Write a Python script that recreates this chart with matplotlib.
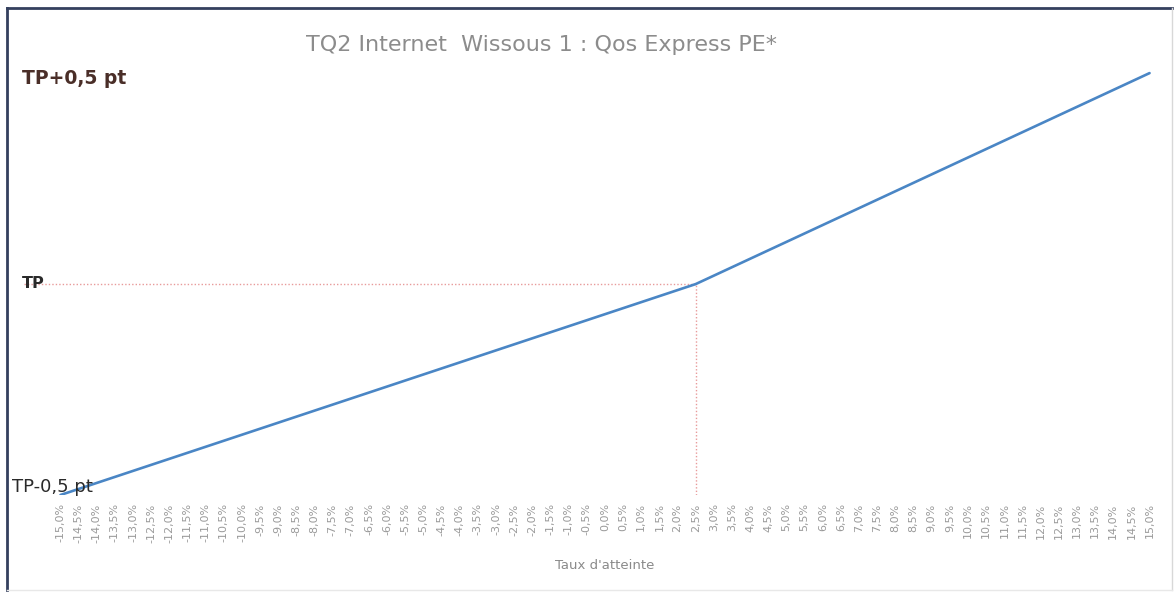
import numpy as np
import matplotlib
matplotlib.use("Agg")
import matplotlib.pyplot as plt
from matplotlib.lines import Line2D

# taux d'atteinte (%) and points relative to target (TP)
taux = [-15.0, 2.5, 15.0]
points = [-0.5, 0.0, 0.5]
seuil_x = 2.5
seuil_y = 0.0

ticks = np.arange(-15.0, 15.5, 0.5)
tick_labels = [("%.1f%%" % t).replace(".", ",") for t in ticks]
y_labels = ["TP-0,5 pt", "TP", "TP+0,5 pt"]

title = "TQ2 Internet  Wissous 1 : Qos Express PE*"

fig = plt.figure(figsize=(11.75, 5.93), dpi=100)
W, H = 1175, 593
ax = fig.add_axes([55 / W, 1 - 495 / H, (1155 - 55) / W, (495 - 52) / H])

ax.plot(taux, points, color="#4a86c5", lw=1.9, zorder=3, solid_capstyle="round")

# red dotted guide lines at the target
ax.plot([-16.0, seuil_x], [seuil_y, seuil_y], color="#e89a9a", lw=1, ls=(0, (1, 1.5)), zorder=2, clip_on=False)
ax.plot([seuil_x, seuil_x], [-0.5, seuil_y], color="#e89a9a", lw=1, ls=(0, (1, 1.5)), zorder=2)

ax.set_xlim(-15.15, 15.15)
ax.set_ylim(-0.5, 0.55)
ax.set_xticks(ticks)
ax.set_xticklabels(tick_labels, rotation=90, fontsize=8, color="#9a9a9a")
ax.tick_params(axis="x", length=0, pad=6)
ax.set_yticks([])
for s in ax.spines.values():
    s.set_visible(False)
ax.set_xlabel("Taux d'atteinte", fontsize=9.5, color="#8a8a8a", labelpad=12)

# y labels drawn as text like in the original
fig.text(22 / W, 1 - 78 / H, y_labels[2], fontsize=13.5, fontweight="bold", color="#4a2e28", va="center", ha="left")
fig.text(22 / W, 1 - 284 / H, y_labels[1], fontsize=11.5, fontweight="bold", color="#2a2a2a", va="center", ha="left")
fig.text(12 / W, 1 - 487 / H, y_labels[0], fontsize=13, color="#2a2a2a", va="center", ha="left", zorder=5)

fig.text(542 / W, 1 - 45 / H, title, fontsize=16, color="#8c8c8c", ha="center", va="center")

# chart frame
fig.add_artist(Line2D([7 / W, 7 / W], [1 - 590 / H, 1 - 8 / H], color="#34405e", lw=2))
fig.add_artist(Line2D([7 / W, 1172 / W], [1 - 8 / H, 1 - 8 / H], color="#34405e", lw=2))
fig.add_artist(Line2D([1172 / W, 1172 / W], [1 - 590 / H, 1 - 8 / H], color="#d8d8d8", lw=1))
fig.add_artist(Line2D([7 / W, 1172 / W], [1 - 590 / H, 1 - 590 / H], color="#e8e8e8", lw=1))

fig.savefig("out.png", dpi=100)
